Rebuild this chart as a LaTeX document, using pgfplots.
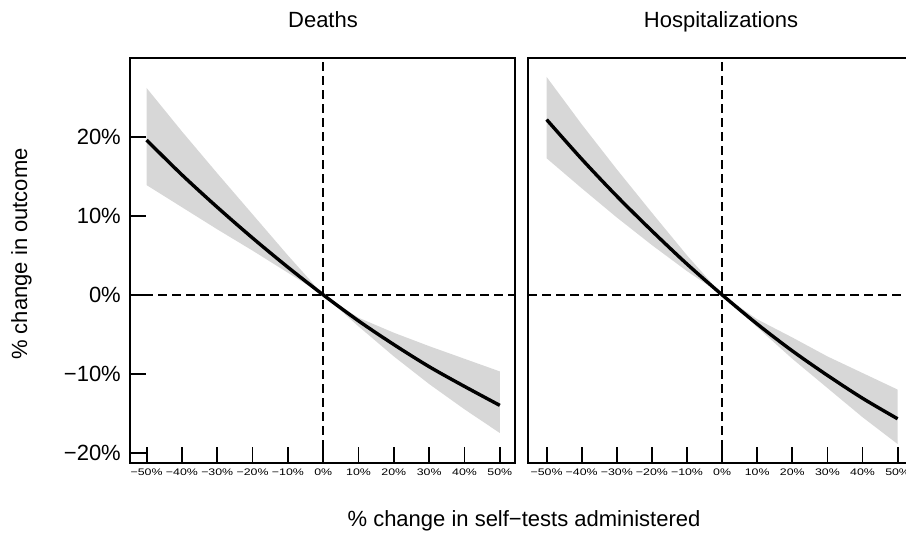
\documentclass[border=0pt]{standalone}
\usepackage{pgfplots}
\pgfplotsset{compat=1.18}
\usepackage{pgfplotstable}
\usepgfplotslibrary{fillbetween}
\usepackage{fontspec}
\setmainfont{Liberation Sans}

\definecolor{bandgray}{HTML}{D7D7D7}

% change in self-tests (%), fitted change in outcome, lower and upper bounds
\pgfplotstableread{
x    fit    lo     hi
-50  19.6   13.9   26.2
-40  15.2   11.1   20.7
-30  11.1    8.3   15.4
-20   7.2    5.6   10.2
-10   3.5    2.8    5.0
0     0.0    0.0    0.0
10   -3.3   -4.0   -2.9
20   -6.3   -7.8   -4.8
30   -9.1  -11.3   -6.5
40  -11.6  -14.5   -8.1
50  -14.0  -17.5   -9.7
}\deaths

\pgfplotstableread{
x    fit    lo     hi
-50  22.2   17.3   27.6
-40  17.2   13.5   21.6
-30  12.5    9.8   15.9
-20   8.1    6.3   10.4
-10   3.9    3.0    5.0
0     0.0    0.0    0.0
10   -3.7   -4.1   -3.1
20   -7.1   -8.1   -5.4
30  -10.2  -11.8   -7.8
40  -13.1  -15.5   -9.9
50  -15.7  -18.9  -12.0
}\hosp

\pgfplotsset{
  panel/.style={
    scale only axis, anchor=south west,
    height=405pt,
    ymin=-21.3, ymax=30,
    axis line style={line width=1.8pt},
    every tick/.style={line width=1.8pt, black},
    major tick length=16pt,
    tick align=inside,
    xtick pos=bottom, ytick pos=left,
    xtick={-50,-40,...,50},
    xticklabels={−50\%,−40\%,−30\%,−20\%,−10\%,0\%,10\%,20\%,30\%,40\%,50\%},
    xticklabel style={font=\fontsize{9.5}{10}\selectfont, xscale=1.3, inner sep=0pt, yshift=-6pt},
    yticklabel style={font=\fontsize{22}{24}\selectfont, inner sep=0pt, xshift=-9pt},
  },
  refline/.style={black, line width=1.8pt, dash pattern=on 9pt off 5pt},
  fitline/.style={black, line width=3.4pt},
}

\begin{document}
\begin{tikzpicture}[x=1pt,y=1pt]
\fontsize{22}{26}\selectfont

% left panel: deaths
\begin{axis}[panel, at={(130pt,70pt)}, width=385pt,
  xmin=-54.7, xmax=54.3,
  ytick={-20,-10,0,10,20},
  yticklabels={−20\%,−10\%,0\%,10\%,20\%}]
  \addplot[name path=dhi, draw=none] table[x=x,y=hi]{\deaths};
  \addplot[name path=dlo, draw=none] table[x=x,y=lo]{\deaths};
  \addplot[bandgray, draw=none] fill between[of=dhi and dlo];
  \addplot[refline] coordinates {(0,-21.3) (0,30)};
  \addplot[refline] coordinates {(-54.7,0) (54.3,0)};
  \addplot[fitline, smooth] table[x=x,y=fit]{\deaths};
\end{axis}

% right panel: hospitalizations
\begin{axis}[panel, at={(528pt,70pt)}, width=384pt,
  xmin=-55.3, xmax=54.1,
  ytick=\empty]
  \addplot[name path=hhi, draw=none] table[x=x,y=hi]{\hosp};
  \addplot[name path=hlo, draw=none] table[x=x,y=lo]{\hosp};
  \addplot[bandgray, draw=none] fill between[of=hhi and hlo];
  \addplot[refline] coordinates {(0,-21.3) (0,30)};
  \addplot[refline] coordinates {(-55.3,0) (54.1,0)};
  \addplot[fitline, smooth] table[x=x,y=fit]{\hosp};
\end{axis}

% titles and axis labels
\node[anchor=base] at (323,505) {Deaths};
\node[anchor=base] at (721,505) {Hospitalizations};
\node[anchor=base, rotate=90] at (27,279) {\% change in outcome};
\node[anchor=base] at (524,6) {\% change in self−tests administered};

\pgfresetboundingbox
\useasboundingbox (0,0) rectangle (906,533);
\end{tikzpicture}
\end{document}
